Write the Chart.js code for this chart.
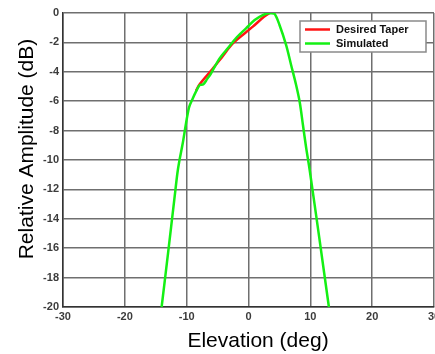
<!DOCTYPE html>
<html>
<head>
<meta charset="utf-8">
<script src="https://cdn.jsdelivr.net/npm/chart.js@4"></script>
<style>
  html, body { margin: 0; padding: 0; background: #fff; overflow: hidden; }
  #wrap { width: 435px; height: 354px; overflow: hidden; }
  #box { width: 460px; height: 354px; }
</style>
</head>
<body>
<div id="wrap"><div id="box"><canvas id="beamChart"></canvas></div></div>
<script>
'use strict';

// desired taper (red)
const taperDeg = [-8.5, -7.9, -5.8, -4.2, -2.5, 0.7, 2.5, 3.4];
const taperDb  = [-5.3, -4.85, -3.8, -2.95, -2.05, -0.93, -0.25, 0];

// simulated pattern (green)
const simDeg = [-14.05, -13.0, -12.0, -11.5, -11.2, -10.65, -10.1, -9.6, -9.0, -8.5,
  -7.9, -7.3, -6.7, -6.05, -4.7, -3.35, -2.0, -0.4, 1.0, 2.3,
  3.4, 4.2, 5.0, 6.1, 6.9, 7.7, 8.3, 8.8, 9.3, 9.9, 11.45, 13.0];
const simDb = [-20, -16.3, -12.7, -10.9, -10.1, -8.9, -7.5, -6.4, -5.8, -5.35,
  -4.9, -4.85, -4.5, -4.1, -3.1, -2.4, -1.7, -1.05, -0.48, -0.14,
  0, -0.05, -0.8, -2.2, -3.55, -4.9, -6.1, -7.6, -9.1, -10.7, -15.3, -20];

const xTicks = [-30, -20, -10, 0, 10, 20, 30];
const yTicks = [0, -2, -4, -6, -8, -10, -12, -14, -16, -18, -20];

const labels = ['Desired Taper', 'Simulated'];

function pairs(xs, ys) {
  return xs.map((x, i) => ({ x: x, y: ys[i] }));
}

// axis titles + legend box drawn inside the plot like the original figure
const extras = {
  id: 'extras',
  afterDraw(chart) {
    const ctx = chart.ctx;
    ctx.save();
    ctx.fillStyle = '#000';
    ctx.font = '21px "Liberation Sans", Arial, sans-serif';
    ctx.textAlign = 'center';
    ctx.textBaseline = 'alphabetic';
    ctx.fillText('Elevation (deg)', 258, 347);

    ctx.save();
    ctx.translate(33, 149);
    ctx.rotate(-Math.PI / 2);
    ctx.fillText('Relative Amplitude (dB)', 0, 0);
    ctx.restore();

    // legend
    ctx.fillStyle = '#fff';
    ctx.fillRect(300, 21, 126, 31);
    ctx.strokeStyle = '#8a8a8a';
    ctx.lineWidth = 1.5;
    ctx.strokeRect(300, 21, 126, 31);
    ctx.font = 'bold 11px "Liberation Sans", Arial, sans-serif';
    ctx.textAlign = 'left';
    ctx.textBaseline = 'middle';
    const ds = chart.data.datasets;
    [29.5, 43.5].forEach((y, i) => {
      ctx.strokeStyle = ds[i].borderColor;
      ctx.lineWidth = 2.5;
      ctx.beginPath();
      ctx.moveTo(305, y);
      ctx.lineTo(330, y);
      ctx.stroke();
      ctx.fillStyle = '#111';
      ctx.fillText(ds[i].label, 336, y);
    });
    ctx.restore();
  }
};

document.addEventListener('DOMContentLoaded', () => {
  const ctx = document.getElementById('beamChart').getContext('2d');
  new Chart(ctx, {
    type: 'line',
    data: {
      datasets: [{
        label: labels[0],
        data: pairs(taperDeg, taperDb),
        borderColor: 'rgb(255, 20, 20)',
        borderWidth: 2.5,
        pointRadius: 0,
        tension: 0.3,
        order: 1,
      }, {
        label: labels[1],
        data: pairs(simDeg, simDb),
        borderColor: 'rgb(20, 240, 20)',
        borderWidth: 2.5,
        pointRadius: 0,
        tension: 0.3,
        order: 0,
      }],
    },
    options: {
      responsive: true,
      maintainAspectRatio: false,
      animation: false,
      layout: { padding: { top: 13, right: 26, left: 0, bottom: 0 } },
      plugins: {
        legend: { display: false },
        tooltip: { enabled: false },
      },
      scales: {
        x: {
          type: 'linear',
          min: -30,
          max: 30,
          afterFit: (s) => { s.height = 47; },
          afterBuildTicks: (s) => { s.ticks = xTicks.map(v => ({ value: v })); },
          ticks: {
            padding: 3,
            color: '#3c3c3c',
            font: { family: '"Liberation Sans", Arial, sans-serif', size: 11, weight: 'bold' },
          },
          grid: { color: '#6f6f6f', lineWidth: 1.5, drawTicks: false },
          border: { color: '#333', width: 1.5 },
        },
        y: {
          type: 'linear',
          min: -20,
          max: 0,
          afterFit: (s) => { s.width = 63; },
          afterBuildTicks: (s) => { s.ticks = yTicks.map(v => ({ value: v })); },
          ticks: {
            padding: 4,
            color: '#3c3c3c',
            font: { family: '"Liberation Sans", Arial, sans-serif', size: 11, weight: 'bold' },
          },
          grid: { color: '#6f6f6f', lineWidth: 1.5, drawTicks: false },
          border: { color: '#333', width: 1.5 },
        },
      },
    },
    plugins: [extras],
  });
});
</script>
</body>
</html>
